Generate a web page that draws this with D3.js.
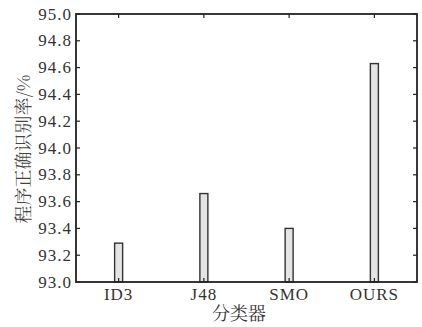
<!DOCTYPE html>
<html>
<head>
<meta charset="UTF-8">
<style>
  * { margin: 0; padding: 0; }
  body { background: #fff; width: 422px; height: 327px; overflow: hidden; }
</style>
</head>
<body>
<svg id="chart" width="422" height="327"></svg>
<script src="https://d3js.org/d3.v7.min.js"></script>
<script>
  const categories = ['ID3', 'J48', 'SMO', 'OURS'];
  const values = [93.29, 93.66, 93.40, 94.63];
  const yTicks = [93.0, 93.2, 93.4, 93.6, 93.8, 94.0, 94.2, 94.4, 94.6, 94.8, 95.0];

  const mLeft = 76, mRight = 417, mTop = 14, mBottom = 282;
  const serif = '"Liberation Serif"';
  const cjk = '"Noto Serif CJK SC"';
  const svg = d3.select('#chart');

  const x = d3.scalePoint().domain(categories).range([mLeft, mRight]).padding(0.5);
  const y = d3.scaleLinear().domain([93, 95]).range([mBottom, mTop]);

  // barres
  const bw = 8;
  svg.append('g').selectAll('rect')
    .data(categories)
    .join('rect')
    .attr('x', (d) => x(d) - bw / 2)
    .attr('y', (d, i) => y(values[i]))
    .attr('width', bw)
    .attr('height', (d, i) => mBottom - y(values[i]))
    .attr('fill', '#e4e4e4')
    .attr('stroke', '#333')
    .attr('stroke-width', 1.4);

  // ticks vers l'intérieur
  const tl = 4;
  const ticks = svg.append('g').attr('stroke', '#222').attr('stroke-width', 1.2);
  yTicks.forEach(t => {
    ticks.append('line').attr('x1', mLeft).attr('x2', mLeft + tl).attr('y1', y(t)).attr('y2', y(t));
    ticks.append('line').attr('x1', mRight).attr('x2', mRight - tl).attr('y1', y(t)).attr('y2', y(t));
  });
  categories.forEach(c => {
    ticks.append('line').attr('x1', x(c)).attr('x2', x(c)).attr('y1', mBottom).attr('y2', mBottom - tl);
    ticks.append('line').attr('x1', x(c)).attr('x2', x(c)).attr('y1', mTop).attr('y2', mTop + tl);
  });

  // cadre
  svg.append('rect')
    .attr('x', mLeft).attr('y', mTop)
    .attr('width', mRight - mLeft).attr('height', mBottom - mTop)
    .attr('fill', 'none').attr('stroke', '#222').attr('stroke-width', 1.8);

  // étiquettes y
  svg.append('g').selectAll('text')
    .data(yTicks)
    .join('text')
    .attr('x', 72)
    .attr('y', d => y(d) + 5.5)
    .attr('text-anchor', 'end')
    .attr('font-size', 17)
    .attr('letter-spacing', 1)
    .style('font-family', serif)
    .style('fill', '#333')
    .text(d => d.toFixed(1));

  // étiquettes x
  svg.append('g').selectAll('text')
    .data(categories)
    .join('text')
    .attr('x', d => x(d))
    .attr('y', 300)
    .attr('text-anchor', 'middle')
    .attr('font-size', 17)
    .attr('letter-spacing', 1)
    .style('font-family', serif)
    .style('fill', '#333')
    .text(d => d);

  svg.append('text')
    .attr('x', 239).attr('y', 320)
    .attr('text-anchor', 'middle')
    .attr('font-size', 18)
    .style('font-family', cjk)
    .style('fill', '#333')
    .text('分类器');

  svg.append('text')
    .attr('transform', 'translate(30,149) rotate(-90)')
    .attr('text-anchor', 'middle')
    .attr('font-size', 18)
    .style('font-family', cjk)
    .style('fill', '#444')
    .text('程序正确识别率/%');
</script>
</body>
</html>
